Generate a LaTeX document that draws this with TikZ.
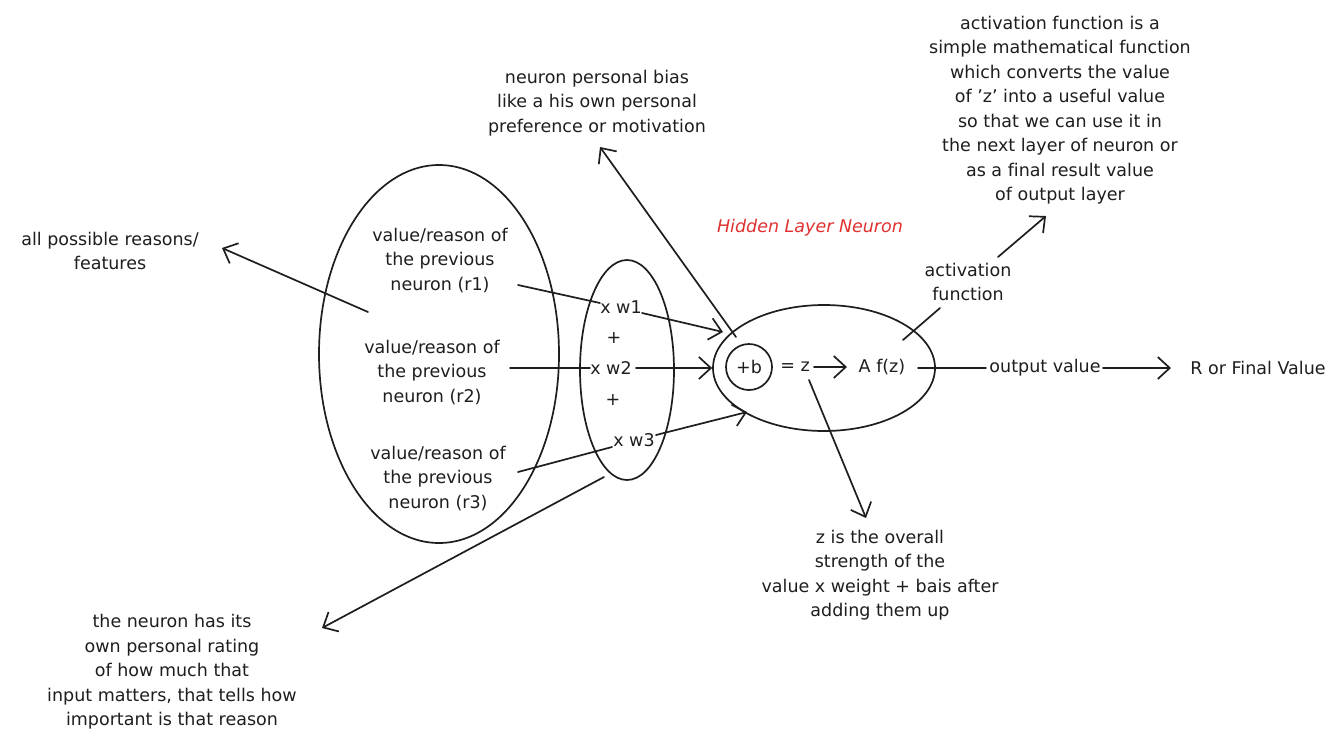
\documentclass[tikz,border=0pt]{standalone}
\usepackage{fontspec}
\setmainfont[Ligatures=NoCommon]{DejaVu Sans}
\usetikzlibrary{arrows.meta,shapes.geometric}
\definecolor{exred}{HTML}{E03131}
\definecolor{ink}{HTML}{1E1E1E}
\begin{document}
\begin{tikzpicture}[x=1pt,y=-1pt,
  txt/.style={align=center,font=\fontsize{17.5}{24.5}\selectfont,text=ink,inner sep=0pt},
  outline/.style={draw=ink,line width=1.7pt,inner sep=0pt},
  ln/.style={draw=ink,line width=1.7pt,line cap=round},
  arr/.style={ln,-{Straight Barb[length=12pt,width=22pt,line width=1.7pt]}}]
\useasboundingbox[fill=white] (0,0) rectangle (1343,745);

% shapes
\node[outline,ellipse,minimum width=240pt,minimum height=378pt] (big) at (439,354) {};
\node[outline,ellipse,minimum width=94pt,minimum height=220pt] (small) at (627,370) {};
\node[outline,ellipse,minimum width=222pt,minimum height=126pt] (neuron) at (824,368) {};
\node[outline,circle,minimum size=46pt,txt] (bias) at (749,367) {+b};

% texts inside
\node[txt] (r1) at (440,260) {value/reason of\\the previous\\neuron (r1)};
\node[txt] (r2) at (432,372) {value/reason of\\the previous\\neuron (r2)};
\node[txt] (r3) at (438,478) {value/reason of\\the previous\\neuron (r3)};
\node[txt] (w1) at (621,307) {x w1};
\node[txt] (p1) at (614,338) {+};
\node[txt] (w2) at (611,368) {x w2};
\node[txt] (p2) at (613,400) {+};
\node[txt] (w3) at (634,440) {x w3};
\node[txt] (eqz) at (795,367) {= z};
\node[txt] (fz) at (882,367) {A f(z)};
\node[txt] (outv) at (1045,368) {output value};
\node[txt] (res) at (1258,368) {R or Final Value};
\node[txt,text=exred] (hid) at (810,228) {\itshape Hidden Layer Neuron};

% annotations
\node[txt] (allr) at (110,251) {all possible reasons/\\features};
\node[txt] (biastxt) at (597,103) {neuron personal bias\\like a his own personal\\preference or motivation};
\node[txt] (rating) at (172,672) {the neuron has its\\own personal rating\\of how much that\\input matters, that tells how\\important is that reason};
\node[txt] (ztxt) at (880,575) {z is the overall\\strength of the\\value x weight + bais after\\adding them up};
\node[txt] (actl) at (968,282) {activation\\function};
\node[txt] (acttop) at (1060,110) {activation function is a\\simple mathematical function\\which converts the value\\of \char"0027 z\char"0027{} into a useful value\\so that we can use it in\\the next layer of neuron or\\as a final result value\\of output layer};

% anchor coordinates
\coordinate (r1e) at (518,285);
\coordinate (w1w) at (600,303);
\coordinate (r2e) at (510,368);
\coordinate (w2w) at (590,368);
\coordinate (r3e) at (518,472);
\coordinate (w3w) at (612,447);
\coordinate (w1e) at (642,313);
\coordinate (n1) at (723,332);
\coordinate (w2e) at (636,368);
\coordinate (w3e) at (656,435);
\coordinate (n3) at (747,412);
\coordinate (bigin) at (368,312);
\coordinate (allrtip) at (222,248);
\coordinate (nb) at (736,337);
\coordinate (biastip) at (600,147);
\coordinate (smb) at (604,477);
\coordinate (ratetip) at (322,628);
\coordinate (zs) at (809,380);
\coordinate (ztip) at (866,518);
\coordinate (as) at (940,308);
\coordinate (ae) at (903,340);
\coordinate (bs) at (998,257);
\coordinate (btip) at (1046,216);
\coordinate (zarrs) at (814,367);
\coordinate (zarre) at (847,367);
\coordinate (fze) at (918,368);
\coordinate (outvw) at (986,368);
\coordinate (outve) at (1103,368);
\coordinate (rest) at (1171,368);

% connectors
\draw[ln] (r1e) -- (w1w);
\draw[ln] (r2e) -- (w2w);
\draw[ln] (r3e) -- (w3w);
\draw[arr] (w1e) -- (n1);
\draw[arr] (w2e) -- (neuron.west);
\draw[arr] (w3e) -- (n3);
\draw[arr] (bigin) -- (allrtip);
\draw[arr] (nb) -- (biastip);
\draw[arr] (smb) -- (ratetip);
\draw[arr] (zs) -- (ztip);
\draw[arr] (zarrs) -- (zarre);
\draw[ln] (fze) -- (outvw);
\draw[arr] (outve) -- (rest);
\draw[ln] (as) -- (ae);
\draw[arr] (bs) -- (btip);
\end{tikzpicture}
\end{document}
